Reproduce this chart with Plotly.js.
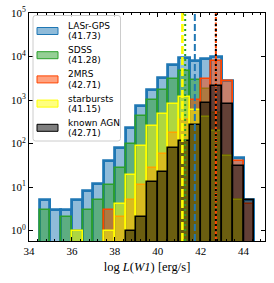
<!DOCTYPE html>
<html>
<head>
<meta charset="utf-8">
<script src="https://cdn.plot.ly/plotly-3.0.1.min.js"></script>
<style>html,body{margin:0;padding:0;background:#fff;}#chart{width:274px;height:283px;}</style>
</head>
<body>
<div id="chart"></div>
<script>
// Bin left edges (bin width 0.5 in log L(W1))
var binLeft = [34.5, 35, 35.5, 36, 36.5, 37, 37.5, 38, 38.5, 39, 39.5, 40, 40.5, 41, 41.5, 42, 42.5, 43, 43.5, 44];
var binWidth = 0.5;

var seriesNames = ["LASr-GPS", "SDSS", "2MRS", "starbursts", "known AGN"];
var medians = [41.73, 41.28, 42.71, 41.15, 42.71];

var lasrGps   = [5, 3, 3, 5, 8, 12, 39, 77, 224, 720, 1740, 3150, 6450, 9200, 8000, 8800, 9600, 2800, 47, 5];
var sdss      = [3, null, 2, 1, 3, 5, 11, 28, 96, 425, 990, 1700, 3100, 4700, 2900, 1800, 500, 53, 5, null];
var twoMrs    = [null, null, null, null, null, null, 3, 2, 5, 11, 28, 56, 177, 350, 980, 3100, 7900, 2700, 39, 4];
var starbursts= [null, null, null, 1, null, null, 1, 4, 19, 90, 250, 465, 830, 1150, 600, 400, 190, 53, 5, null];
var knownAgn  = [null, null, null, null, null, null, null, null, 1, 2, 13, 22, 79, 115, 260, 860, 2150, 815, 30, 5];

var yTickVals = [1, 10, 100, 1000, 10000, 100000];
var yTickText = ["10<sup>0</sup>", "10<sup>1</sup>", "10<sup>2</sup>", "10<sup>3</sup>", "10<sup>4</sup>", "10<sup>5</sup>"];

var seriesValues = [lasrGps, sdss, twoMrs, starbursts, knownAgn];
var edgeColors = ["#1f77b4", "#2ca02c", "#ff4500", "#ffff00", "#000000"];
var fillColors = ["rgba(31,119,180,0.5)", "rgba(44,160,44,0.5)", "rgba(255,69,0,0.5)", "rgba(255,255,0,0.5)", "rgba(0,0,0,0.5)"];
var edgeWidths = [2.8, 1.6, 1.6, 1.6, 1.6];
var medianDash = ["7px,3px", "2px,3px", "4px,1.5px", "8px,3px", "2px,3px"];
var medianWidth = [2, 2, 2, 2.6, 2];

var traces = seriesValues.map(function (vals, i) {
  return {
    type: "bar",
    x: binLeft,
    y: vals,
    width: binWidth,
    offset: 0,
    name: seriesNames[i],
    marker: { color: fillColors[i], line: { color: edgeColors[i], width: edgeWidths[i] } },
    showlegend: false,
    hoverinfo: "skip"
  };
});

// plot area geometry (px)
var L = 29, R = 9, T = 13, B = 42, W = 274, H = 283;
var pw = W - L - R, ph = H - T - B;
function px(x) { return (x - L) / pw; }
function py(y) { return (H - B - y) / ph; }

var shapes = [];
medians.forEach(function (m, i) {
  shapes.push({
    type: "line", xref: "x", yref: "paper", x0: m, x1: m, y0: 0, y1: 1,
    line: { color: edgeColors[i], width: medianWidth[i], dash: medianDash[i] },
    layer: "above"
  });
});

// legend box (rounded)
var bx0 = px(33), bx1 = px(120.5), by1 = py(15.5), by0 = py(141);
var rx = 2.5 / pw, ry = 2.5 / ph;
shapes.push({
  type: "path", xref: "paper", yref: "paper", layer: "above",
  path: "M" + (bx0 + rx) + "," + by1 + " L" + (bx1 - rx) + "," + by1 +
        " Q" + bx1 + "," + by1 + " " + bx1 + "," + (by1 - ry) +
        " L" + bx1 + "," + (by0 + ry) + " Q" + bx1 + "," + by0 + " " + (bx1 - rx) + "," + by0 +
        " L" + (bx0 + rx) + "," + by0 + " Q" + bx0 + "," + by0 + " " + bx0 + "," + (by0 + ry) +
        " L" + bx0 + "," + (by1 - ry) + " Q" + bx0 + "," + by1 + " " + (bx0 + rx) + "," + by1 + " Z",
  fillcolor: "rgba(255,255,255,0.8)",
  line: { color: "#cccccc", width: 1 }
});

var annotations = [];
seriesNames.forEach(function (name, i) {
  var c = 31 + 24.2 * i;
  shapes.push({
    type: "rect", xref: "paper", yref: "paper", layer: "above",
    x0: px(37), x1: px(58), y0: py(c + 3.5), y1: py(c - 3.5),
    fillcolor: fillColors[i], line: { color: edgeColors[i], width: 1 }
  });
  annotations.push({
    xref: "paper", yref: "paper", x: px(65.5), y: py(c - 5), xanchor: "left", yanchor: "middle",
    text: name, showarrow: false, font: { family: "DejaVu Sans", size: 9, color: "#000" }
  });
  annotations.push({
    xref: "paper", yref: "paper", x: px(65.5), y: py(c + 5.2), xanchor: "left", yanchor: "middle",
    text: "(" + medians[i].toFixed(2) + ")", showarrow: false, font: { family: "DejaVu Sans", size: 9, color: "#000" }
  });
});

var serif = "Liberation Serif, DejaVu Serif, serif";
var layout = {
  width: W, height: H,
  margin: { l: L, r: R, t: T, b: B, pad: 0 },
  paper_bgcolor: "#fff", plot_bgcolor: "#fff",
  barmode: "overlay",
  bargap: 0,
  showlegend: false,
  xaxis: {
    range: [34, 45], tick0: 34, dtick: 2,
    ticks: "inside", ticklen: 4, tickwidth: 1, tickcolor: "#000",
    minor: { ticks: "inside", ticklen: 2, tickwidth: 0.8, tickcolor: "#000", dtick: 0.4, tick0: 34 },
    showline: true, linecolor: "#000", linewidth: 1, mirror: "allticks",
    showgrid: false, zeroline: false,
    tickfont: { family: serif, size: 11, color: "#000" },
    title: { text: "log <i>L</i>(<i>W1</i>) [erg/s]", font: { family: serif, size: 12.5, color: "#000" }, standoff: 6 }
  },
  yaxis: {
    type: "log", range: [-0.241, 5],
    tickvals: yTickVals, ticktext: yTickText,
    ticks: "inside", ticklen: 4, tickwidth: 1, tickcolor: "#000",
    showline: true, linecolor: "#000", linewidth: 1, mirror: "allticks",
    showgrid: false, zeroline: false,
    tickfont: { family: serif, size: 11, color: "#000" }
  },
  shapes: shapes,
  annotations: annotations
};

Plotly.newPlot("chart", traces, layout, { displayModeBar: false });
</script>
</body>
</html>
